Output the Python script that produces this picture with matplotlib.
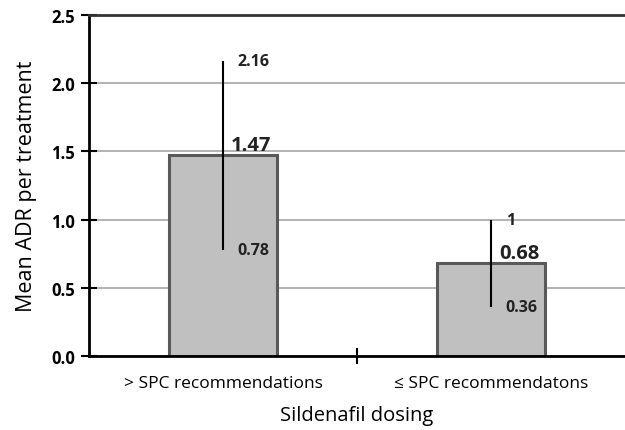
import numpy as np
import matplotlib
matplotlib.use("Agg")
import matplotlib.pyplot as plt

plt.rcParams['font.family'] = ['Open Sans', 'DejaVu Sans']

categories = ['> SPC recommendations', '\u2264 SPC recommendatons']
means = [1.47, 0.68]
lows = [0.78, 0.36]
highs = [2.16, 1.0]
high_labels = ['2.16', '1']
low_labels = ['0.78', '0.36']

fig = plt.figure(figsize=(6.25, 4.31), dpi=100)
ax = fig.add_axes([89 / 625, 1 - 357 / 431, 1 - 89 / 625, (357 - 16) / 431])

x = np.arange(len(categories))
ax.bar(x, means, width=0.4, color='#c0c0c0', edgecolor='#595959', linewidth=2.2, zorder=2)
ax.vlines(x, lows, highs, color='black', linewidth=1.5, zorder=3)

for i in range(len(x)):
    ax.text(x[i] + 0.055, highs[i], high_labels[i], fontsize=11.5, fontweight='bold',
            va='center', ha='left', color='#222222', zorder=4)
    ax.text(x[i] + 0.105, means[i] + 0.005, '%.2f' % means[i], fontsize=14.5, fontweight='bold',
            va='bottom', ha='center', color='#222222', zorder=4)
    ax.text(x[i] + 0.055, lows[i], low_labels[i], fontsize=11.5, fontweight='bold',
            va='center', ha='left', color='#222222', zorder=4)

ax.set_xlim(-0.5, 1.5)
ax.set_ylim(0, 2.5)
ax.set_yticks([0, 0.5, 1.0, 1.5, 2.0, 2.5])
ax.set_yticklabels(['0.0', '0.5', '1.0', '1.5', '2.0', '2.5'], fontsize=12, fontweight='bold')
ax.yaxis.grid(True, color='#a6a6a6', linewidth=1.2, zorder=0)
ax.set_axisbelow(True)

ax.set_xticks([0.5])
ax.set_xticklabels([''])
ax.set_xticks(x, minor=True)
ax.set_xticklabels(categories, minor=True, fontsize=12.5)
ax.tick_params(axis='x', which='minor', length=0, pad=14)
ax.tick_params(axis='x', which='major', direction='inout', length=12, width=1.5)
ax.tick_params(axis='y', direction='inout', length=12, width=1.5, pad=4)

for s in ['left', 'bottom']:
    ax.spines[s].set_linewidth(2)
ax.spines['right'].set_visible(False)
ax.spines['top'].set_color('#333333')
ax.spines['top'].set_linewidth(2)

ax.set_ylabel('Mean ADR per treatment', fontsize=15.5, labelpad=10)
ax.set_xlabel('Sildenafil dosing', fontsize=14.5, labelpad=10)

fig.savefig('out.png', dpi=100)
